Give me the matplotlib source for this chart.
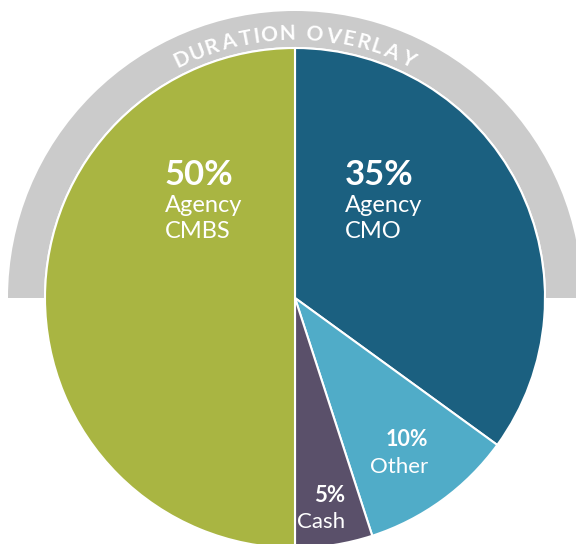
import numpy as np
import matplotlib
matplotlib.use("Agg")
import matplotlib.pyplot as plt
from matplotlib.patches import Wedge
from matplotlib.textpath import TextPath
from matplotlib.font_manager import FontProperties

# Data (clockwise from top)
categories = ["Agency CMO", "Other", "Cash", "Agency CMBS"]
values = [35, 10, 5, 50]
colors = ["#1B6080", "#50ACC8", "#5A506A", "#A9B542"]
pct_labels = ["35%", "10%", "5%", "50%"]
name_labels = ["Agency\nCMO", "Other", "Cash", "Agency\nCMBS"]
overlay_title = "DURATION OVERLAY"

FONT = "Lato"
W, H = 576, 544
fig = plt.figure(figsize=(W / 100, H / 100), dpi=100)
ax = fig.add_axes([0, 0, 1, 1])

cx, cy, R = 295, 246, 250

# Gray overlay band
band = Wedge((cx, cy), 287, 0, 180, width=36, facecolor="#CBCBCB", edgecolor="none", zorder=1)
ax.add_patch(band)

ax.pie(values, colors=colors, startangle=90, counterclock=False, center=(cx, cy), radius=R,
       wedgeprops=dict(edgecolor="white", linewidth=1.5, zorder=2))

ax.set_xlim(0, W)
ax.set_ylim(0, H)
ax.set_aspect("equal")
ax.axis("off")

# Curved title
fs = 15
fp = FontProperties(family=FONT, weight="bold", size=fs)
pt2px = 100 / 72
widths = []
for ch in overlay_title:
    if ch == " ":
        widths.append(5.0)
    else:
        ext = TextPath((0, 0), ch, prop=fp).get_extents()
        widths.append(ext.width * pt2px)
track = 3.6
rb = 258
total = sum(widths) + track * (len(widths) - 1)
start = -total / 2
pos = start
for ch, w in zip(overlay_title, widths):
    cpos = pos + w / 2
    th = np.pi / 2 - cpos / rb
    x = cx + rb * np.cos(th)
    y = cy + rb * np.sin(th)
    if ch != " ":
        ax.text(x, y, ch, fontsize=fs, fontweight="bold", family=FONT, color="white",
                rotation=np.degrees(th) - 90, rotation_mode="anchor", ha="center", va="baseline",
                zorder=5)
    pos += w + track

def py(v):
    return H - v

# Labels
big = dict(color="white", family=FONT, zorder=5)
ax.text(165, py(185), pct_labels[3], fontsize=25, fontweight="bold", ha="left", va="baseline", **big)
ax.text(165, py(212), "Agency", fontsize=17, ha="left", va="baseline", **big)
ax.text(165, py(238), "CMBS", fontsize=17, ha="left", va="baseline", **big)

ax.text(345, py(185), pct_labels[0], fontsize=25, fontweight="bold", ha="left", va="baseline", **big)
ax.text(345, py(212), "Agency", fontsize=17, ha="left", va="baseline", **big)
ax.text(345, py(238), "CMO", fontsize=17, ha="left", va="baseline", **big)

ax.text(428, py(446), pct_labels[1], fontsize=15.5, fontweight="bold", ha="right", va="baseline", **big)
ax.text(428, py(473), name_labels[1], fontsize=16, ha="right", va="baseline", **big)

ax.text(345, py(502), pct_labels[2], fontsize=16, fontweight="bold", ha="right", va="baseline", **big)
ax.text(345, py(528), name_labels[2], fontsize=16, ha="right", va="baseline", **big)

fig.savefig("out.png", dpi=100)
